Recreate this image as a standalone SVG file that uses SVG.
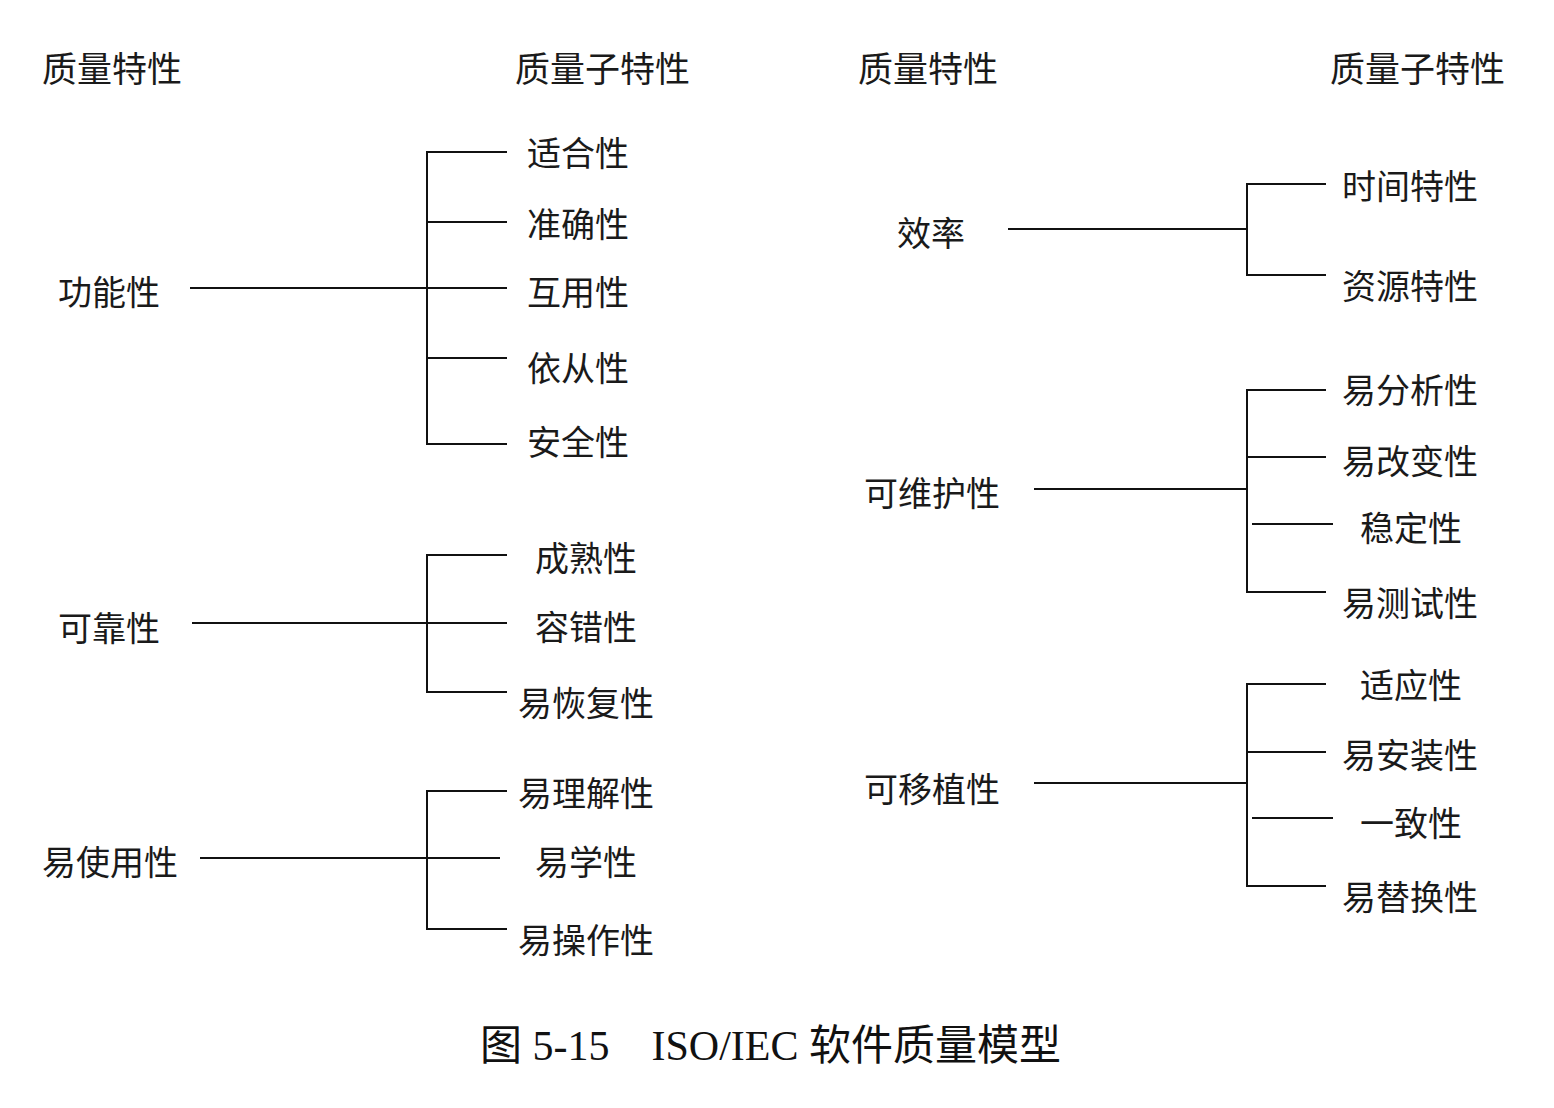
<svg xmlns="http://www.w3.org/2000/svg" width="1554" height="1108" viewBox="0 0 1554 1108">
<style>
text{font-family:"Noto Sans CJK SC","Noto Sans",sans-serif;font-size:34px;fill:#1a1a1a;dominant-baseline:central}
.hd{font-size:35px}
.cap{font-family:"Liberation Serif","Noto Sans CJK SC",serif;font-size:42px;fill:#111}
.c line,.c path{stroke:#111;stroke-width:2;fill:none}
</style>
<rect width="1554" height="1108" fill="#fff"/>
<g id="headers">
<text class="hd" x="42" y="66">质量特性</text>
<text class="hd" x="515" y="66">质量子特性</text>
<text class="hd" x="858" y="66">质量特性</text>
<text class="hd" x="1330" y="66">质量子特性</text>
</g>
<g class="c" id="connectors">
<line x1="190" y1="288" x2="507" y2="288"/>
<path d="M507 152H427V444H507M427 222H507M427 358H507"/>
<line x1="192" y1="623" x2="507" y2="623"/>
<path d="M507 555H427V692H507"/>
<line x1="200" y1="858" x2="500" y2="858"/>
<path d="M507 791H427V929H507"/>
<line x1="1008" y1="229" x2="1247" y2="229"/>
<path d="M1326 184H1247V275H1326"/>
<line x1="1034" y1="489" x2="1247" y2="489"/>
<path d="M1326 390H1247V592H1326M1247 457H1326M1252 524H1333"/>
<line x1="1034" y1="783" x2="1247" y2="783"/>
<path d="M1326 684H1247V886H1326M1247 752H1326M1252 818H1333"/>
</g>
<g id="n-gongneng"><text x="58" y="290">功能性</text></g>
<g id="n-shihe"><text x="527" y="151">适合性</text></g>
<g id="n-zhunque"><text x="527" y="222">准确性</text></g>
<g id="n-huyong"><text x="527" y="290">互用性</text></g>
<g id="n-yicong"><text x="527" y="366">依从性</text></g>
<g id="n-anquan"><text x="527" y="440">安全性</text></g>
<g id="n-kekao"><text x="58" y="626">可靠性</text></g>
<g id="n-chengshu"><text x="535" y="556">成熟性</text></g>
<g id="n-rongcuo"><text x="535" y="625">容错性</text></g>
<g id="n-yihuifu"><text x="518" y="701">易恢复性</text></g>
<g id="n-yishiyong"><text x="42" y="860">易使用性</text></g>
<g id="n-yilijie"><text x="518" y="791">易理解性</text></g>
<g id="n-yixue"><text x="535" y="860">易学性</text></g>
<g id="n-yicaozuo"><text x="518" y="938">易操作性</text></g>
<g id="n-xiaolv"><text x="897" y="231">效率</text></g>
<g id="n-shijian"><text x="1342" y="184">时间特性</text></g>
<g id="n-ziyuan"><text x="1342" y="284">资源特性</text></g>
<g id="n-keweihu"><text x="864" y="491">可维护性</text></g>
<g id="n-yifenxi"><text x="1342" y="388">易分析性</text></g>
<g id="n-yigaibian"><text x="1342" y="459">易改变性</text></g>
<g id="n-wending"><text x="1360" y="526">稳定性</text></g>
<g id="n-yiceshi"><text x="1342" y="601">易测试性</text></g>
<g id="n-keyizhi"><text x="864" y="787">可移植性</text></g>
<g id="n-shiying"><text x="1360" y="683">适应性</text></g>
<g id="n-yianzhuang"><text x="1342" y="753">易安装性</text></g>
<g id="n-yizhi"><text x="1360" y="821">一致性</text></g>
<g id="n-yitihuan"><text x="1342" y="895">易替换性</text></g>
<g id="caption"><text class="cap" x="480" y="1046">图 5-15　ISO/IEC 软件质量模型</text></g>
</svg>
